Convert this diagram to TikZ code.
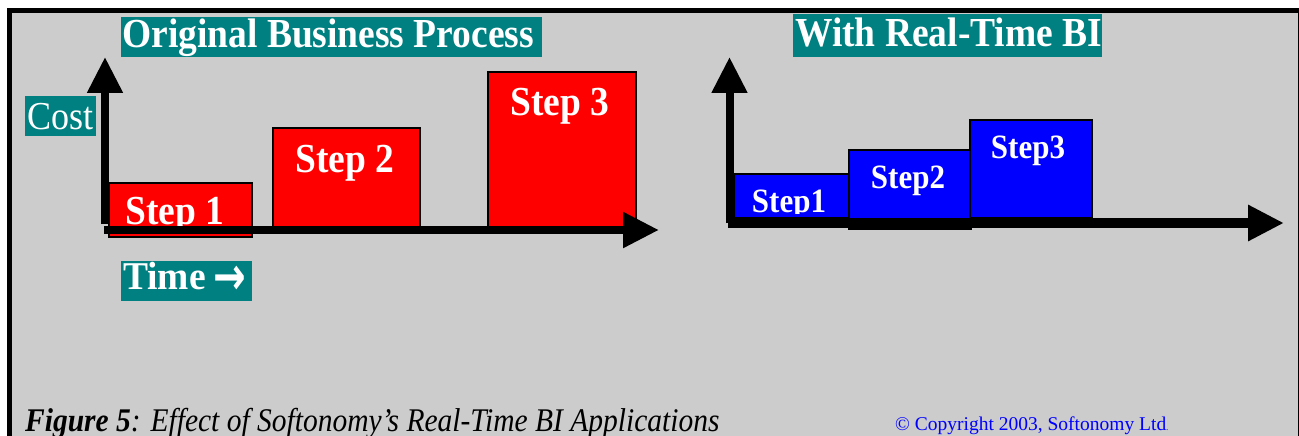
\documentclass[tikz,border=0pt]{standalone}
\usepackage{fontspec}
\setmainfont{Liberation Serif}
\newfontfamily\dejavu{DejaVu Sans}
\usetikzlibrary{arrows.meta}
\definecolor{bggray}{RGB}{204,204,204}
\definecolor{tealbox}{RGB}{0,128,128}
\definecolor{stepred}{RGB}{255,0,0}
\definecolor{stepblue}{RGB}{0,0,255}
\newcommand\vstretch[2][1.1]{\scalebox{1}[#1]{#2}}
\begin{document}
\begin{tikzpicture}[x=1pt,y=-1pt,
  box/.style={fill=tealbox, draw=none, inner sep=0pt, outer sep=0pt, anchor=north west},
  redstep/.style={fill=stepred, draw=black, line width=1.3pt, inner sep=0pt, outer sep=0pt, anchor=north west},
  bluestep/.style={fill=stepblue, draw=black, line width=1.3pt, inner sep=0pt, outer sep=0pt, anchor=north west},
  wtext/.style={text=white, inner sep=0pt, font=\fontsize{37.5pt}{40pt}\selectfont\bfseries},
  wtextsm/.style={text=white, inner sep=0pt, font=\fontsize{31pt}{34pt}\selectfont\bfseries},
  axisline/.style={line width=8.5pt, draw=black, -{Triangle[length=36pt,width=34pt]}}
]
\useasboundingbox (0,0) rectangle (1299,436);
\clip (0,0) rectangle (1299,436);
\fill[white] (0,0) rectangle (1299,436);
% frame
\draw[line width=5pt, fill=bggray] (9.5,10.5) rectangle (1300,446);

% ---------- left chart ----------
\node[box, minimum width=421pt, minimum height=40pt] (t1) at (121,17) {};
\node[wtext, anchor=base west] (t1t) at (122,48) {\vstretch{Original Business Process}};
\node[box, minimum width=71pt, minimum height=40pt] (costbox) at (25,96) {};
\node[text=white, inner sep=0pt, anchor=base west, font=\fontsize{36pt}{40pt}\selectfont] (costt) at (27,129) {\vstretch{Cost}};
\node[box, minimum width=131pt, minimum height=40pt] (timebox) at (121,261) {};
\node[wtext, anchor=base west] (timet) at (123,289) {\vstretch[1.05]{Time}};
\node[text=white, inner sep=0pt, anchor=base west, font=\dejavu\bfseries\fontsize{39pt}{40pt}\selectfont] (timearrow) at (213,294) {\scalebox{1}[1.35]{→}};

\node[redstep, minimum width=143pt, minimum height=54pt] (s1) at (109,183) {};
\node[redstep, minimum width=147pt, minimum height=100pt] (s2) at (273,128) {};
\node[redstep, minimum width=148pt, minimum height=156pt] (s3) at (488,72) {};
\node[wtext, anchor=base] (s1t) at (175,224) {\vstretch{Step 1}};
\node[wtext, anchor=base] (s2t) at (345,172) {\vstretch{Step 2}};
\node[wtext, anchor=base] (s3t) at (560,115) {\vstretch{Step 3}};

\coordinate (o1v) at (105,224);
\coordinate (y1) at (105,57);
\coordinate (o1h) at (104,230);
\coordinate (x1) at (659,230);
\draw[axisline, line width=8pt] (o1v) -- (y1);
\draw[axisline] (o1h) -- (x1);

% ---------- right chart ----------
\node[box, minimum width=309pt, minimum height=43pt] (t2) at (793,14) {};
\node[wtext, anchor=base west] (t2t) at (795,47) {\vstretch{With Real-Time BI}};

\node[bluestep, minimum width=115pt, minimum height=44pt] (b1) at (734,174) {};
\node[bluestep, minimum width=122pt, minimum height=79pt] (b2) at (849,150) {};
\node[bluestep, minimum width=122pt, minimum height=98pt] (b3) at (970,120) {};
\begin{scope}
\clip (734,170) rectangle (849,213);
\node[wtextsm, anchor=base] (b1t) at (789,212) {\vstretch{Step1}};
\end{scope}
\node[wtextsm, anchor=base] (b2t) at (908,188) {\vstretch{Step2}};
\node[wtextsm, anchor=base] (b3t) at (1028,158) {\vstretch{Step3}};

\coordinate (o2v) at (729.5,223);
\coordinate (y2) at (729.5,57);
\coordinate (o2h) at (728,223);
\coordinate (x2) at (1284,223);
\draw[axisline, line width=8pt] (o2v) -- (y2);
\draw[axisline, line width=10pt] (o2h) -- (x2);

% ---------- caption ----------
\node[anchor=base west, inner sep=0pt, font=\fontsize{29.5pt}{32pt}\selectfont\itshape] (cap) at (25,431)
  {\vstretch[1.12]{\textbf{Figure 5}: Effect of Softonomy’s Real-Time BI Applications}};
\node[anchor=base west, inner sep=0pt, text=stepblue, font=\fontsize{19.5pt}{22pt}\selectfont] (copy) at (895,430)
  {© Copyright 2003, Softonomy Ltd{\fontsize{9pt}{10pt}\selectfont .}};
\end{tikzpicture}
\end{document}
